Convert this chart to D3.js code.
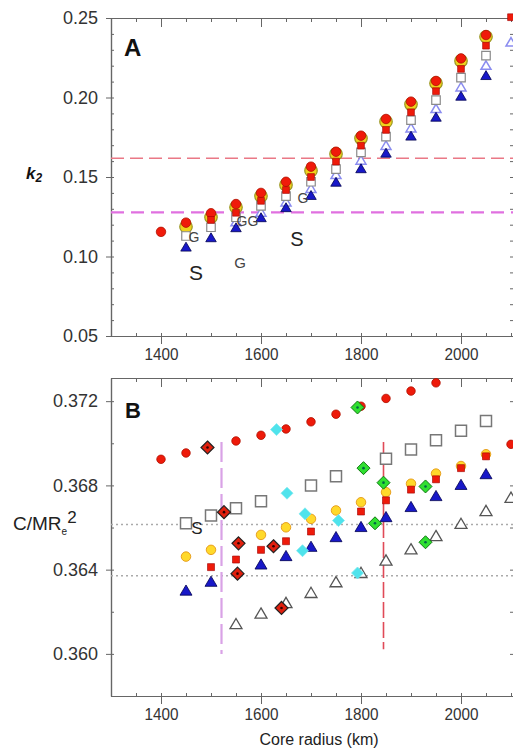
<!DOCTYPE html>
<html>
<head>
<meta charset="utf-8">
<script src="https://cdn.jsdelivr.net/npm/d3@7"></script>
<style>
  html, body { margin: 0; padding: 0; background: #fff; }
  svg { display: block; font-family: "Liberation Sans", Arial, sans-serif; }
</style>
</head>
<body>
<svg id="chart" width="513" height="749"></svg>
<script>
// core radius (km), shared by both panels
const radii = [1400, 1450, 1500, 1550, 1600, 1650, 1700, 1750, 1800, 1850, 1900, 1950, 2000, 2050, 2100];

// panel A : k2
const k2RedCircle  = [0.1155, 0.1213, 0.1272, 0.1330, 0.1400, 0.1470, 0.1565, 0.1659, 0.1760, 0.1865, 0.1974, 0.2104, 0.2246, 0.2393, null];
const k2Yellow     = [null, 0.1187, 0.1247, 0.1310, 0.1380, 0.1450, 0.1540, 0.1645, 0.1743, 0.1848, 0.1957, 0.2090, 0.2230, 0.2382, null];
const k2RedSquare  = [null, null, 0.1230, 0.1275, 0.1350, 0.1418, 0.1500, 0.1597, 0.1697, 0.1796, 0.1907, 0.2040, 0.2180, 0.2326, 0.2505];
const k2OpenSquare = [null, 0.1129, 0.1184, 0.1247, 0.1318, 0.1380, 0.1470, 0.1550, 0.1655, 0.1754, 0.1858, 0.1984, 0.2125, 0.2263, null];
const k2OpenTri    = [null, null, null, 0.1220, 0.1280, 0.1345, 0.1430, 0.1517, 0.1607, 0.1700, 0.1810, 0.1932, 0.2068, 0.2204, 0.2350];
const k2BlueTri    = [null, 0.1062, 0.1121, 0.1184, 0.1247, 0.1310, 0.1387, 0.1470, 0.1555, 0.1653, 0.1760, 0.1879, 0.2011, 0.2141, null];
const k2RefLines   = [0.1618, 0.1278];

// panel A letters (model labels), placed at their baseline
const lettersA = ["S", "S", "G", "G", "G", "G", "G"];
const lettersAR = [1470, 1672, 1558, 1466, 1562, 1584, 1684];
const lettersAK = [0.0855, 0.1069, 0.0925, 0.1091, 0.1192, 0.1192, 0.1336];
const lettersASize = [21, 20, 15, 14, 14, 14, 14];

// panel B : C/MRe^2
const cRedCircle  = [0.36924, 0.36954, null, 0.37011, 0.37038, 0.37068, 0.37102, 0.37138, 0.37176, 0.37213, 0.37248, 0.37287, null, null, null];
const cOpenSquare = [null, 0.36620, 0.36657, 0.36692, 0.36725, null, 0.36800, 0.36843, null, 0.36927, 0.36970, 0.37014, 0.37059, 0.37106, null];
const cYellow     = [null, 0.36462, 0.36494, null, 0.36565, 0.36601, 0.36641, 0.36681, 0.36720, 0.36768, 0.36808, 0.36856, 0.36892, 0.36948, null];
const cRedSquare  = [null, null, 0.36412, 0.36448, 0.36494, 0.36535, 0.36581, null, 0.36676, 0.36729, 0.36780, 0.36829, 0.36882, 0.36938, null];
const cBlueTri    = [null, 0.36303, 0.36345, null, 0.36427, 0.36467, 0.36511, 0.36557, 0.36605, 0.36652, 0.36700, 0.36752, 0.36805, 0.36856, null];
const cOpenTri    = [null, null, null, 0.36144, 0.36194, 0.36244, 0.36292, 0.36343, 0.36387, 0.36446, 0.36499, 0.36562, 0.36620, 0.36681, 0.36744];
const cExtraR = [2100];
const cExtraC = [0.36995];

const redDiamondR   = [1493, 1526, 1555, 1553, 1625, 1641];
const redDiamondC   = [0.36980, 0.36673, 0.36525, 0.36381, 0.36511, 0.36218];
const cyanDiamondR  = [1631, 1652, 1688, 1683, 1755, 1793];
const cyanDiamondC  = [0.37065, 0.36763, 0.36665, 0.36490, 0.36633, 0.36384];
const greenDiamondR = [1793, 1805, 1828, 1845, 1929, 1929];
const greenDiamondC = [0.37170, 0.36882, 0.36620, 0.36813, 0.36795, 0.36530];

const cRefH = [0.36614, 0.36371];
const cRefV = [1521, 1845];
const cRefVTop = [0.37006, 0.37006];
const cRefVBottom = [0.36000, 0.36022];

// ticks
const xTicksMajor = [1400, 1600, 1800, 2000];
const xTicksMinor = [1300, 1350, 1400, 1450, 1500, 1550, 1600, 1650, 1700, 1750, 1800, 1850, 1900, 1950, 2000, 2050, 2100];
const yTicksA = [0.05, 0.10, 0.15, 0.20, 0.25];
const yMinorA = [0.05, 0.06, 0.07, 0.08, 0.09, 0.10, 0.11, 0.12, 0.13, 0.14, 0.15, 0.16, 0.17, 0.18, 0.19, 0.20, 0.21, 0.22, 0.23, 0.24, 0.25];
const yTicksB = [0.360, 0.364, 0.368, 0.372];
const yMinorB = [0.358, 0.360, 0.362, 0.364, 0.366, 0.368, 0.370, 0.372];

const svg = d3.select("#chart");
const x = d3.scaleLinear().domain([1300, 2108]).range([111, 515]);
const yA = d3.scaleLinear().domain([0.05, 0.25]).range([336, 18]);
const yB = d3.scaleLinear().domain([0.358, 0.3731]).range([696, 378]);

// marker shapes, centred on 0,0
const circle = s => { const r = s / 2; return `M${r},0A${r},${r} 0 1,1 ${-r},0A${r},${r} 0 1,1 ${r},0Z`; };
const square = s => `M${-s/2},${-s/2}h${s}v${s}h${-s}Z`;
const triangle = s => { const h = s * 0.85; return `M0,${-h/2}L${s/2},${h/2}L${-s/2},${h/2}Z`; };
const diamond = s => `M0,${-s/2}L${s/2},0L0,${s/2}L${-s/2},0Z`;

function plot(y, xs, ys, shape, size, fill, stroke, sw, dot) {
  const pts = xs.map((r, i) => [r, ys[i]]).filter(d => d[1] != null);
  const g = svg.append("g");
  g.selectAll("path")
    .data(pts)
    .join("path")
    .attr("transform", d => `translate(${x(d[0])},${y(d[1])})`)
    .attr("d", shape(size))
    .attr("fill", fill)
    .attr("stroke", stroke)
    .attr("stroke-width", sw);
  if (dot) {
    g.selectAll("circle")
      .data(pts)
      .join("circle")
      .attr("cx", d => x(d[0]))
      .attr("cy", d => y(d[1]))
      .attr("r", 1.3)
      .attr("fill", dot);
  }
}

function drawFrame(y, yMajor, yMinor, fmt) {
  const [yb, yt] = y.range();
  const g = svg.append("g").attr("color", "#666");
  const put = (t, axis) => g.append("g").attr("transform", t).call(axis);

  put(`translate(0,${yb})`, d3.axisBottom(x).tickValues(xTicksMinor).tickSize(-3).tickSizeOuter(0).tickFormat(""));
  put(`translate(0,${yb})`, d3.axisBottom(x).tickValues(xTicksMajor).tickSize(8).tickSizeOuter(0).tickPadding(4).tickFormat(d3.format("d")))
    .selectAll("text")
    .attr("font-size", 17)
    .attr("textLength", 34)
    .attr("lengthAdjust", "spacingAndGlyphs");
  put(`translate(0,${yt})`, d3.axisTop(x).tickValues(xTicksMinor).tickSize(-4).tickSizeOuter(0).tickFormat(""));
  put(`translate(0,${yt})`, d3.axisTop(x).tickValues(xTicksMajor).tickSize(-9).tickSizeOuter(0).tickFormat(""));
  put("translate(111,0)", d3.axisLeft(y).tickValues(yMinor).tickSize(-3).tickSizeOuter(0).tickFormat(""));
  put("translate(111,0)", d3.axisLeft(y).tickValues(yMajor).tickSize(5).tickSizeOuter(0).tickPadding(8).tickFormat(d3.format(fmt)))
    .selectAll("text").attr("font-size", 18);
  put("translate(515,0)", d3.axisRight(y).tickValues(yMinor).tickSize(-5).tickSizeOuter(0).tickFormat(""));

  g.selectAll("text").attr("fill", "#333").attr("font-family", "Liberation Sans, Arial, sans-serif");
  g.selectAll(".domain").attr("stroke-width", 1.2);
}

// ---------- panel A ----------
drawFrame(yA, yTicksA, yMinorA, ".2f");

svg.append("g").selectAll("line")
  .data(k2RefLines)
  .join("line")
  .attr("x1", x(1300)).attr("x2", x(2108))
  .attr("y1", d => yA(d)).attr("y2", d => yA(d))
  .attr("stroke", (d, i) => i === 0 ? "#ea7886" : "#e070e0")
  .attr("stroke-width", (d, i) => i === 0 ? 1.4 : 2.3)
  .attr("stroke-dasharray", (d, i) => i === 0 ? "13,6" : "13,7");

plot(yA, radii, k2Yellow, circle, 12.5, "#f0d21c", "#9a9624", 1.2);
plot(yA, radii, k2RedCircle, circle, 9.5, "#f01a0a", "#b01000", 0.8);
plot(yA, radii, k2OpenTri, triangle, 10, "#fff", "#8a8cf0", 1.5);
plot(yA, radii, k2OpenSquare, square, 8.5, "#fff", "#8a8a8a", 1.2);
plot(yA, radii, k2RedSquare, square, 6.8, "#ee1a0a", "#a00000", 0.6);
plot(yA, radii, k2BlueTri, triangle, 10.5, "#1818c8", "#000050", 0.8);

svg.append("g").selectAll("text")
  .data(lettersA)
  .join("text")
  .attr("x", (d, i) => x(lettersAR[i]))
  .attr("y", (d, i) => yA(lettersAK[i]))
  .attr("text-anchor", "middle")
  .attr("font-size", (d, i) => lettersASize[i])
  .attr("fill", (d, i) => d === "S" ? "#222" : "#444")
  .text(d => d);

svg.append("text").attr("x", 124).attr("y", 56)
  .attr("font-size", 24).attr("font-weight", "bold").attr("fill", "#111").text("A");

const k2 = svg.append("text").attr("x", 26).attr("y", 179)
  .attr("font-weight", "bold").attr("font-style", "italic").attr("fill", "#111");
k2.append("tspan").attr("font-size", 17).text("k");
k2.append("tspan").attr("font-size", 12).attr("dy", 3).text("2");

// ---------- panel B ----------
drawFrame(yB, yTicksB, yMinorB, ".3f");

svg.append("g").selectAll("line")
  .data(cRefH)
  .join("line")
  .attr("x1", x(1300)).attr("x2", x(2108))
  .attr("y1", d => yB(d)).attr("y2", d => yB(d))
  .attr("stroke", "#aaa")
  .attr("stroke-width", 1.5)
  .attr("stroke-dasharray", "2,3");

svg.append("g").selectAll("line")
  .data(cRefV)
  .join("line")
  .attr("x1", d => x(d)).attr("x2", d => x(d))
  .attr("y1", (d, i) => yB(cRefVTop[i])).attr("y2", (d, i) => yB(cRefVBottom[i]))
  .attr("stroke", (d, i) => i === 0 ? "#d9a2e6" : "#e04a58")
  .attr("stroke-width", (d, i) => i === 0 ? 2.2 : 1.6)
  .attr("stroke-dasharray", (d, i) => i === 0 ? "20,6" : "16,4");

plot(yB, radii, cRedCircle, circle, 8.5, "#ee1a0a", "#b01000", 0.8);
plot(yB, cExtraR, cExtraC, circle, 8.5, "#ee1a0a", "#b01000", 0.8);
plot(yB, radii, cOpenSquare, square, 11, "#fff", "#777", 1.5);
plot(yB, radii, cOpenTri, triangle, 12, "#fff", "#555", 1.3);
plot(yB, radii, cYellow, circle, 9.5, "#ffd92a", "#e8a020", 1);
plot(yB, radii, cRedSquare, square, 7, "#ee1a0a", "#a00000", 0.6);
plot(yB, radii, cBlueTri, triangle, 12, "#1818c8", "#000050", 0.8);
plot(yB, redDiamondR, redDiamondC, diamond, 13, "#e0200e", "#222", 1.2, "#300");
plot(yB, cyanDiamondR, cyanDiamondC, diamond, 12, "#4fe3ec", "#7ee8ee", 0.8);
plot(yB, greenDiamondR, greenDiamondC, diamond, 13, "#30e030", "#117711", 1, "#064");

svg.append("text").attr("x", 197).attr("y", 534)
  .attr("text-anchor", "middle").attr("font-size", 17).attr("fill", "#222").text("S");

svg.append("text").attr("x", 125).attr("y", 418)
  .attr("font-size", 22).attr("font-weight", "bold").attr("fill", "#111").text("B");

const cm = svg.append("text").attr("x", 13).attr("y", 530).attr("fill", "#222");
cm.append("tspan").attr("font-size", 19).text("C/MR");
cm.append("tspan").attr("font-size", 10).attr("dy", 5).text("e");
cm.append("tspan").attr("font-size", 17).attr("dy", -12).text("2");

svg.append("text").attr("x", 319).attr("y", 745)
  .attr("text-anchor", "middle").attr("font-size", 16).attr("fill", "#222").text("Core radius (km)");
</script>
</body>
</html>
